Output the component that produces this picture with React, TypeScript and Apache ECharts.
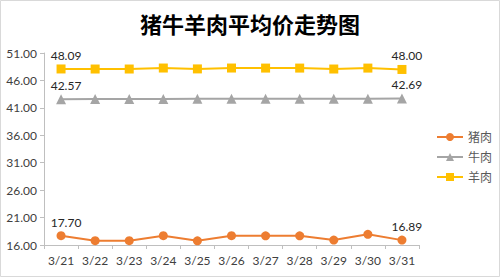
import React, { useEffect, useRef } from "react";
import * as echarts from "echarts";

const categories = ["3/21", "3/22", "3/23", "3/24", "3/25", "3/26", "3/27", "3/28", "3/29", "3/30", "3/31"];
const porkValues = [17.7, 16.78, 16.78, 17.7, 16.76, 17.7, 17.68, 17.68, 16.9, 17.95, 16.89];
const beefValues = [42.57, 42.6, 42.6, 42.62, 42.64, 42.65, 42.66, 42.67, 42.68, 42.68, 42.69];
const muttonValues = [48.09, 48.08, 48.08, 48.26, 48.1, 48.26, 48.25, 48.25, 48.08, 48.25, 48.0];
const seriesNames = ["猪肉", "牛肉", "羊肉"];
const yTicks = { min: 16, max: 51, interval: 5 };
const titleText = "猪牛羊肉平均价走势图";

const FONT = "Lato, 'Noto Sans CJK SC', sans-serif";

function withEndLabels(values: number[]) {
  const last = values.length - 1;
  return values.map((v, i) => ({
    value: v,
    label: { show: i === 0 || i === last },
  }));
}

export default function App() {
  const ref = useRef<HTMLDivElement>(null);
  useEffect(() => {
    if (!ref.current) return;
    const chart = echarts.init(ref.current, undefined, { renderer: "svg" });
    const labelCommon = {
      position: "top",
      distance: 3,
      offset: [5, 0],
      color: "#262626",
      fontSize: 12,
      fontFamily: FONT,
      formatter: (p: any) => Number(p.value).toFixed(2),
    };
    const mk = (name: string, values: number[], color: string, symbol: string, size: number) => ({
      name,
      type: "line",
      data: withEndLabels(values),
      symbol,
      symbolSize: size,
      itemStyle: { color },
      lineStyle: { color, width: 2 },
      label: labelCommon,
      emphasis: { disabled: true },
    });
    chart.setOption({
      animation: false,
      backgroundColor: "#ffffff",
      title: {
        text: titleText,
        left: "center",
        top: 7,
        textStyle: {
          fontFamily: "'Noto Sans CJK SC', sans-serif",
          fontSize: 22,
          fontWeight: "bold",
          color: "#000000",
        },
      },
      graphic: [
        {
          type: "rect",
          shape: { x: 0.5, y: 0.5, width: 499, height: 276 },
          style: { fill: "none", stroke: "#d9d9d9", lineWidth: 1 },
          silent: true,
          z: 100,
        },
      ],
      legend: {
        orient: "vertical",
        left: 431,
        top: 126,
        itemWidth: 26,
        itemHeight: 10,
        itemGap: 8,
        textStyle: { fontFamily: FONT, fontSize: 12, color: "#595959" },
        data: seriesNames,
      },
      grid: { left: 44, right: 81, top: 53, bottom: 32, containLabel: false },
      xAxis: {
        type: "category",
        data: categories,
        boundaryGap: true,
        axisLine: { lineStyle: { color: "#bfbfbf", width: 1 } },
        axisTick: { show: true, length: 4, interval: 0, lineStyle: { color: "#bfbfbf" } },
        axisLabel: { fontFamily: FONT, fontSize: 12, color: "#404040", margin: 9, interval: 0 },
        splitLine: { show: false },
      },
      yAxis: {
        type: "value",
        min: yTicks.min,
        max: yTicks.max,
        interval: yTicks.interval,
        axisLine: { show: true, lineStyle: { color: "#bfbfbf", width: 1 } },
        axisTick: { show: true, length: 4, lineStyle: { color: "#bfbfbf" } },
        axisLabel: {
          fontFamily: FONT,
          fontSize: 12,
          color: "#404040",
          margin: 7,
          formatter: (v: number) => v.toFixed(2),
        },
        splitLine: { show: false },
      },
      series: [
        mk(seriesNames[0], porkValues, "#ED7D31", "circle", 9),
        mk(seriesNames[1], beefValues, "#A5A5A5", "triangle", 10),
        mk(seriesNames[2], muttonValues, "#FFC000", "rect", 9),
      ],
    });
    return () => chart.dispose();
  }, []);
  return (
    <div
      ref={ref}
      style={{ position: "fixed", left: 0, top: 0, width: 500, height: 277 }}
    />
  );
}
